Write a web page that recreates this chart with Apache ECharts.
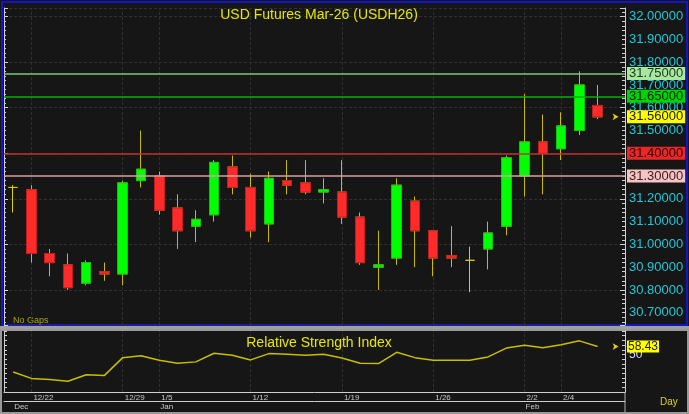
<!DOCTYPE html>
<html>
<head>
<meta charset="utf-8">
<script src="https://cdn.jsdelivr.net/npm/echarts@6/dist/echarts.min.js"></script>
<style>
  html, body { margin: 0; padding: 0; background: #161616; }
  #chart { width: 689px; height: 414px; }
</style>
</head>
<body>
<div id="chart"></div>
<script>
// daily bars, USDH26
var dates = ['12/19', '12/22', '12/23', '12/24', '12/25', '12/26', '12/29', '12/30', '1/5', '1/6', '1/7',
  '1/8', '1/9', '1/12', '1/13', '1/14', '1/15', '1/16', '1/19', '1/20', '1/21', '1/22', '1/23', '1/26',
  '1/27', '1/28', '1/29', '1/30', '2/2', '2/3', '2/4', '2/5', '2/6'];
var opens = [31.25, 31.24, 30.96, 30.91, 30.83, 30.88, 30.87, 31.28, 31.30, 31.16, 31.08,
  31.13, 31.34, 31.25, 31.09, 31.28, 31.27, 31.23, 31.23, 31.12, 30.90, 30.94, 31.19, 31.06,
  30.95, 30.93, 30.98, 31.08, 31.30, 31.45, 31.42, 31.50, 31.61];
var highs = [31.26, 31.26, 30.98, 30.96, 30.93, 30.92, 31.28, 31.50, 31.32, 31.22, 31.15,
  31.37, 31.39, 31.31, 31.32, 31.37, 31.37, 31.29, 31.37, 31.14, 31.06, 31.29, 31.21, 31.06,
  31.08, 30.99, 31.10, 31.39, 31.66, 31.57, 31.58, 31.76, 31.70];
var lows = [31.14, 30.92, 30.86, 30.80, 30.82, 30.84, 30.82, 31.25, 31.13, 30.98, 31.01,
  31.10, 31.22, 31.03, 31.01, 31.22, 31.22, 31.18, 31.09, 30.91, 30.80, 30.91, 30.90, 30.86,
  30.90, 30.79, 30.89, 31.04, 31.21, 31.22, 31.37, 31.48, 31.55];
var closes = [31.25, 30.96, 30.92, 30.81, 30.92, 30.87, 31.27, 31.33, 31.15, 31.06, 31.11,
  31.36, 31.25, 31.06, 31.29, 31.26, 31.23, 31.24, 31.12, 30.92, 30.91, 31.26, 31.06, 30.94,
  30.94, 30.93, 31.05, 31.38, 31.45, 31.40, 31.52, 31.70, 31.56];
var rsiValues = [31.3, 24.5, 23.2, 21.4, 28.4, 27.7, 46.6, 48.7, 43.9, 40.7, 42.1,
  51.3, 49.2, 44.2, 50.9, 50.2, 49.2, 50.2, 46.3, 40.7, 40.3, 52.3, 46.6, 43.9,
  43.9, 43.9, 47.4, 56.8, 59.7, 57.2, 60.3, 64.5, 58.43];

var weekLabels = ['12/22', '12/29', '1/5', '1/12', '1/19', '1/26', '2/2', '2/4'];
var monthLabels = ['Dec', 'Jan', 'Feb'];
var monthStarts = ['12/19', '1/5', '2/2'];
var levelPrices = [31.75, 31.65, 31.40, 31.30];
var priceTicks = [30.7, 30.8, 30.9, 31.0, 31.1, 31.2, 31.3, 31.4, 31.5, 31.6, 31.7, 31.8, 31.9, 32.0];
var rsiTicks = [50];

var levelLineColors = ['#7cc87c', '#00b400', '#c03030', '#d8a0a0'];
var levelBoxColors = ['#a8e8a0', '#00d400', '#e62828', '#f4c4c4'];
var levelTextColors = ['#1a3a1a', '#002000', '#3a0000', '#402020'];
var font = 'Liberation Sans, Arial, sans-serif';

var chart = echarts.init(document.getElementById('chart'));

var cats = dates.concat(['']);
var lastIdx = dates.length - 1;
var candleData = [];
var bodyData = [];
for (var i = 0; i < dates.length; i++) {
  candleData.push([opens[i], closes[i], lows[i], highs[i]]);
  if (opens[i] === closes[i]) {
    bodyData.push('-');
  } else {
    bodyData.push([opens[i], closes[i], Math.min(opens[i], closes[i]), Math.max(opens[i], closes[i])]);
  }
}
var weekIdx = weekLabels.map(function (d) { return dates.indexOf(d); });
var monthIdx = monthStarts.map(function (d) { return dates.indexOf(d); });

var levelMarks = levelPrices.map(function (p, k) {
  return {
    yAxis: p,
    lineStyle: { color: levelLineColors[k], width: 1.5, type: 'solid' },
    label: { backgroundColor: levelBoxColors[k], color: levelTextColors[k] }
  };
});
// last price: no line, only the yellow box
levelMarks.push({
  yAxis: closes[lastIdx],
  lineStyle: { color: 'rgba(0,0,0,0)', width: 0 },
  label: { backgroundColor: '#ffff00', color: '#202000' }
});

var gridLineStyle = { color: '#303030', type: [3, 2], width: 1 };
var whiteLine = { color: '#d0d0d0', width: 1 };

var option = {
  backgroundColor: '#161616',
  animation: false,
  title: [{
    text: 'USD Futures Mar-26 (USDH26)',
    left: 314, top: 3, textAlign: 'center',
    textStyle: { color: '#e6e600', fontSize: 14, fontWeight: 'normal', fontFamily: font }
  }, {
    text: 'Relative Strength Index',
    left: 314, top: 331, textAlign: 'center',
    textStyle: { color: '#e6e600', fontSize: 14, fontWeight: 'normal', fontFamily: font }
  }],
  grid: [
    { left: 4, right: 64, top: 8, height: 317 },
    { left: 4, right: 64, top: 331, height: 61 }
  ],
  xAxis: [{
    type: 'category', gridIndex: 0, data: cats,
    axisLine: { show: false }, axisTick: { show: false }, axisLabel: { show: false }, splitLine: { show: false }
  }, {
    type: 'category', gridIndex: 1, data: cats, position: 'bottom',
    axisLine: { lineStyle: whiteLine },
    axisTick: {
      alignWithLabel: true, length: 9, lineStyle: whiteLine,
      interval: function (index) { return weekIdx.indexOf(index) >= 0; }
    },
    axisLabel: {
      interval: function (index) { return weekIdx.indexOf(index) >= 0; },
      align: 'left', verticalAlign: 'top', margin: 2, padding: [0, 0, 0, 2],
      color: '#c8c8c8', fontSize: 8, fontFamily: font
    },
    splitLine: { show: false }
  }, {
    type: 'category', gridIndex: 1, data: cats, position: 'bottom', offset: 9,
    axisLine: { lineStyle: whiteLine },
    axisTick: {
      alignWithLabel: true, length: 11, lineStyle: whiteLine,
      interval: function (index) { return monthIdx.indexOf(index) > 0; }
    },
    axisLabel: {
      interval: function (index) { return monthIdx.indexOf(index) >= 0; },
      formatter: function (value, index) { return monthLabels[monthIdx.indexOf(index)]; },
      align: 'left', verticalAlign: 'top', margin: 2, padding: [0, 0, 0, 1],
      color: '#c8c8c8', fontSize: 8, fontFamily: font
    },
    splitLine: { show: false }
  }],
  yAxis: [{
    type: 'value', gridIndex: 0, position: 'right',
    min: 30.646, max: 32.038, splitNumber: 7,
    axisLine: { show: true, lineStyle: whiteLine },
    axisTick: { show: true, inside: true, length: 5, lineStyle: whiteLine },
    minorTick: { show: true, splitNumber: 10, length: 3, lineStyle: whiteLine },
    axisLabel: {
      customValues: priceTicks,
      formatter: function (v) { return v.toFixed(5); },
      color: '#1ec8d8', fontSize: 13, margin: 4, fontFamily: font
    },
    splitLine: { show: false }
  }, {
    type: 'value', gridIndex: 0, position: 'left',
    min: 30.646, max: 32.038, splitNumber: 7,
    axisLine: { show: true, lineStyle: whiteLine },
    axisTick: { show: true, inside: true, length: 4, lineStyle: whiteLine },
    minorTick: { show: true, splitNumber: 10, length: 2, lineStyle: whiteLine },
    axisLabel: { show: false },
    splitLine: { show: true, lineStyle: gridLineStyle }
  }, {
    type: 'value', gridIndex: 1, position: 'right',
    min: 10, max: 75, interval: 5,
    axisLine: { show: true, lineStyle: whiteLine },
    axisTick: { show: true, inside: true, length: 3, lineStyle: whiteLine },
    axisLabel: {
      customValues: rsiTicks,
      color: '#dcdcff', fontSize: 12, margin: 4, fontFamily: font
    },
    splitLine: { show: false }
  }, {
    type: 'value', gridIndex: 1, position: 'left',
    min: 10, max: 75, interval: 5,
    axisLine: { show: true, lineStyle: whiteLine },
    axisTick: { show: true, inside: true, length: 3, lineStyle: whiteLine },
    axisLabel: { show: false },
    splitLine: { show: false }
  }],
  series: [{
    name: 'gridMain', type: 'line', xAxisIndex: 0, yAxisIndex: 1, data: [],
    markLine: {
      silent: true, symbol: 'none', z: 1, label: { show: false }, lineStyle: gridLineStyle,
      data: weekIdx.map(function (i) { return { xAxis: i }; })
    }
  }, {
    name: 'USDH26', type: 'candlestick', xAxisIndex: 0, yAxisIndex: 0,
    barWidth: 10, data: candleData,
    itemStyle: {
      color: '#00ff00', color0: '#ff2b2b',
      borderColor: '#c8bc00', borderColor0: '#c8bc00', borderColorDoji: '#d8d000', borderWidth: 1
    },
    markLine: {
      silent: true, symbol: 'none', z: 5,
      label: {
        position: 'end', distance: 2,
        formatter: function (p) { return p.value.toFixed(5); },
        fontSize: 13, fontFamily: font, lineHeight: 13, padding: [0, 2, 0, 2]
      },
      data: levelMarks
    },
    markPoint: {
      silent: true,
      data: [{
        coord: [lastIdx, closes[lastIdx]], symbol: 'arrow', symbolSize: [5, 6], symbolRotate: -90,
        symbolOffset: [21, 0], itemStyle: { color: '#e0d000' }, label: { show: false }
      }]
    }
  }, {
    name: 'body', type: 'candlestick', xAxisIndex: 0, yAxisIndex: 0,
    barWidth: 10, data: bodyData,
    itemStyle: {
      color: '#00ff00', color0: '#ff2b2b',
      borderColor: '#12c412', borderColor0: '#c41c1c', borderWidth: 1
    }
  }, {
    name: 'gridRsi', type: 'line', xAxisIndex: 1, yAxisIndex: 3, data: [],
    markLine: {
      silent: true, symbol: 'none', z: 1, label: { show: false }, lineStyle: gridLineStyle,
      data: weekIdx.map(function (i) { return { xAxis: i }; })
    }
  }, {
    name: 'RSI', type: 'line', xAxisIndex: 1, yAxisIndex: 2, data: rsiValues,
    showSymbol: false, lineStyle: { color: '#c8be00', width: 1.5 },
    markLine: {
      silent: true, symbol: 'none', z: 5,
      lineStyle: { color: 'rgba(0,0,0,0)', width: 0 },
      label: {
        position: 'end', distance: 2,
        formatter: function (p) { return p.value.toFixed(2); },
        backgroundColor: '#ffff00', color: '#202000',
        fontSize: 12, fontFamily: font, lineHeight: 12, padding: [0, 1, 0, 1]
      },
      data: [{ yAxis: rsiValues[lastIdx] }]
    },
    markPoint: {
      silent: true,
      data: [{
        coord: [lastIdx, rsiValues[lastIdx]], symbol: 'arrow', symbolSize: [5, 6], symbolRotate: -90,
        symbolOffset: [21, 0], itemStyle: { color: '#e0d000' }, label: { show: false }
      }]
    }
  }],
  graphic: [
    { type: 'rect', shape: { x: 2, y: 2, width: 685, height: 323 }, style: { fill: null, stroke: '#1414c8', lineWidth: 2 }, silent: true },
    { type: 'rect', shape: { x: 0, y: 326, width: 689, height: 3.5 }, style: { fill: '#a0a0a0' }, silent: true },
    { type: 'rect', shape: { x: 1, y: 330, width: 687, height: 83 }, style: { fill: null, stroke: '#9a9a9a', lineWidth: 2 }, silent: true },
    { type: 'line', shape: { x1: 625, y1: 392, x2: 625, y2: 412 }, style: { stroke: '#b0b0b0', lineWidth: 1 }, silent: true },
    { type: 'text', left: 13, top: 316, style: { text: 'No Gaps', fill: '#a8a800', font: '9px ' + font }, silent: true },
    { type: 'text', left: 660, top: 397, style: { text: 'Day', fill: '#d8d800', font: '10px ' + font }, silent: true }
  ]
};

chart.setOption(option);
window.addEventListener('resize', function () {
  chart.resize();
});
</script>
</body>
</html>
